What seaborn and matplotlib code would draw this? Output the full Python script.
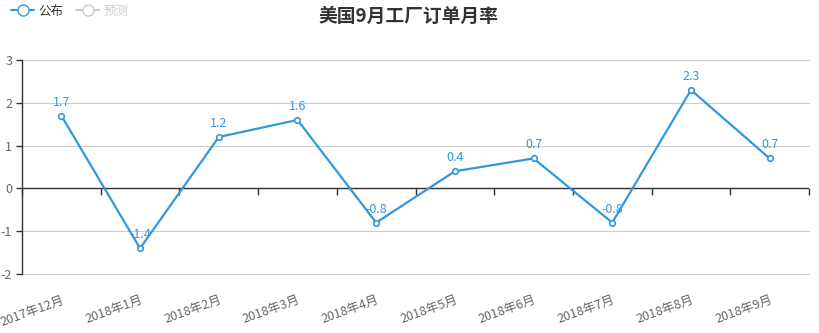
import matplotlib
matplotlib.use("Agg")
import matplotlib.pyplot as plt
from matplotlib.lines import Line2D
import seaborn as sns
import pandas as pd

categories = ["2017年12月", "2018年1月", "2018年2月", "2018年3月", "2018年4月",
              "2018年5月", "2018年6月", "2018年7月", "2018年8月", "2018年9月"]
values = [1.7, -1.4, 1.2, 1.6, -0.8, 0.4, 0.7, -0.8, 2.3, 0.7]
y_ticks = [-2, -1, 0, 1, 2, 3]
title = "美国9月工厂订单月率"
legend_labels = ["公布", "预测"]

sns.set_theme(style="white")
plt.rcParams['font.family'] = ['Noto Sans CJK SC', 'DejaVu Sans']
plt.rcParams['axes.unicode_minus'] = False

LINE = "#3398DB"
df = pd.DataFrame({"month": categories, "value": values})

fig = plt.figure(figsize=(8.19, 3.33), dpi=100)
ax = fig.add_axes([22/819, 1-274/333, (809-22)/819, (274-60)/333])

sns.lineplot(data=df, x="month", y="value", ax=ax, sort=False, color=LINE,
             linewidth=1.6, marker="o", markersize=4, markerfacecolor="white",
             markeredgecolor=LINE, markeredgewidth=1.2, zorder=5)

ax.set_xlim(-0.5, len(categories) - 0.5)
ax.set_ylim(min(y_ticks), max(y_ticks))
ax.set_yticks(y_ticks)
ax.set_yticklabels([str(t) for t in y_ticks], color="#666666", fontsize=9)
ax.yaxis.grid(True, color="#cccccc", linewidth=0.8)
for gl in ax.yaxis.get_gridlines():
    gl.set_clip_on(False)
ax.set_axisbelow(True)
ax.tick_params(axis="y", length=4, width=1, color="#333333", direction="out", left=True, pad=3)

ax.set_xticks(range(len(categories)))
ax.set_xticklabels(categories, rotation=20, ha="right", va="top",
                   rotation_mode="anchor", color="#666666", fontsize=9)
ax.tick_params(axis="x", length=0, pad=14)
ax.set_xlabel("")
ax.set_ylabel("")

for s in ["top", "right", "bottom"]:
    ax.spines[s].set_visible(False)
ax.spines["left"].set_color("#333333")
ax.spines["left"].set_linewidth(1)

# zero axis line with boundary ticks
ax.axhline(0, color="#333333", linewidth=1, zorder=2)
zero_frac = (0 - min(y_ticks)) / (max(y_ticks) - min(y_ticks))
sec = ax.secondary_xaxis(zero_frac)
sec.set_xticks([i - 0.5 for i in range(len(categories) + 1)])
sec.set_xticklabels([])
sec.tick_params(axis="x", direction="out", length=5, color="#333333", width=1)
for s in ["top", "right", "left", "bottom"]:
    sec.spines[s].set_visible(False)

for i, v in enumerate(values):
    ax.annotate(f"{v}", (i, v), xytext=(0, 5), textcoords="offset points",
                ha="center", va="bottom", color=LINE, fontsize=9, zorder=6)

fig.text(408/819, 1-16/333, title, ha="center", va="center",
         fontsize=13.5, fontweight="bold", color="#333333")

handles = [
    Line2D([], [], color=LINE, marker="o", markersize=8, markerfacecolor="white",
           markeredgecolor=LINE, linewidth=1.5),
    Line2D([], [], color="#cccccc", marker="o", markersize=8, markerfacecolor="white",
           markeredgecolor="#cccccc", linewidth=1.5),
]
leg = fig.legend(handles, legend_labels, loc="upper left", bbox_to_anchor=(0.0, 1.02),
                 ncol=2, frameon=False, fontsize=9, handlelength=1.8,
                 handletextpad=0.4, columnspacing=1.0)
leg.get_texts()[0].set_color("#333333")
leg.get_texts()[1].set_color("#cccccc")

fig.savefig("out.png", dpi=100)
